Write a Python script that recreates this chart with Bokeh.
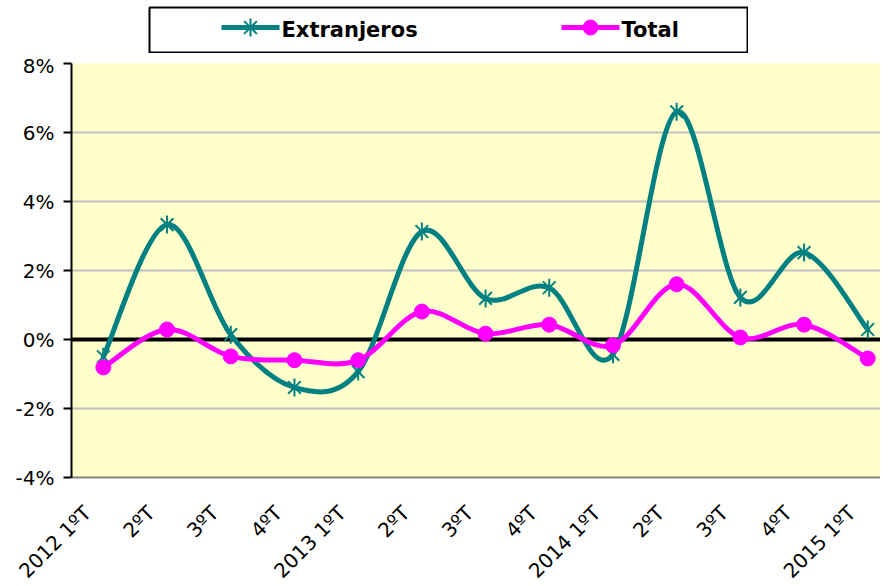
import math
from bokeh.plotting import figure
from bokeh.models import FixedTicker, PrintfTickFormatter, Span, Range1d, Spacer, ColumnDataSource
from bokeh.layouts import column, row
from bokeh.core.properties import value
from bokeh.embed import file_html
from bokeh.resources import INLINE

# ---- data ----
categories = ["2012 1ºT", "2ºT", "3ºT", "4ºT",
              "2013 1ºT", "2ºT", "3ºT", "4ºT",
              "2014 1ºT", "2ºT", "3ºT", "4ºT",
              "2015 1ºT"]
extranjeros = [-0.50, 3.33, 0.14, -1.39, -0.93, 3.13, 1.19, 1.50, -0.43, 6.60, 1.22, 2.52, 0.29]
total = [-0.81, 0.29, -0.49, -0.60, -0.60, 0.81, 0.17, 0.43, -0.17, 1.60, 0.06, 0.43, -0.55]
y_ticks = [-4, -2, 0, 2, 4, 6, 8]
legend_labels = ["Extranjeros", "Total"]

TEAL = "#008080"
MAGENTA = "#FF00FF"
BG = "#FFFFCC"
FONT = "DejaVu Sans"
LABEL_SHIFT = 0.25  # category labels sit slightly left of the category centre

xs = list(range(len(categories)))


def smooth_segments(px, py):
    """Cubic Bezier control points (Catmull-Rom style, as in smoothed lines)."""
    n = len(px)
    d = dict(x0=[], y0=[], x1=[], y1=[], cx0=[], cy0=[], cx1=[], cy1=[])
    for i in range(n - 1):
        xp, yp = (px[i - 1], py[i - 1]) if i > 0 else (px[i], py[i])
        xn, yn = (px[i + 2], py[i + 2]) if i + 2 < n else (px[i + 1], py[i + 1])
        d["x0"].append(px[i]); d["y0"].append(py[i])
        d["x1"].append(px[i + 1]); d["y1"].append(py[i + 1])
        d["cx0"].append(px[i] + (px[i + 1] - xp) / 6.0)
        d["cy0"].append(py[i] + (py[i + 1] - yp) / 6.0)
        d["cx1"].append(px[i + 1] - (xn - px[i]) / 6.0)
        d["cy1"].append(py[i + 1] - (yn - py[i]) / 6.0)
    return ColumnDataSource(d)


# ---- main chart ----
p = figure(frame_width=809, frame_height=414,
           min_border_left=71, min_border_right=0, min_border_top=10, min_border_bottom=100,
           x_range=Range1d(-0.5, 12.2), y_range=Range1d(-4, 8),
           output_backend="svg", toolbar_location=None,
           background_fill_color=BG, border_fill_color="white",
           outline_line_color=None)

p.yaxis.ticker = FixedTicker(ticks=y_ticks)
p.yaxis.formatter = PrintfTickFormatter(format="%d%%")
p.yaxis.axis_line_color = "black"
p.yaxis.axis_line_width = 2
p.yaxis.major_tick_line_color = "black"
p.yaxis.major_tick_line_width = 2
p.yaxis.major_tick_out = 8
p.yaxis.major_tick_in = 0
p.yaxis.minor_tick_line_color = None
p.yaxis.major_label_text_font = FONT
p.yaxis.major_label_text_font_size = "20px"
p.yaxis.major_label_text_color = "black"
p.yaxis.major_label_standoff = 9

label_ticks = [i - LABEL_SHIFT for i in xs]
p.xaxis.ticker = FixedTicker(ticks=label_ticks)
p.xaxis.major_label_overrides = {t: c for t, c in zip(label_ticks, categories)}
p.xaxis.major_label_orientation = math.pi / 4
p.xaxis.axis_line_color = "#808080"
p.xaxis.axis_line_width = 2
p.xaxis.major_tick_line_color = None
p.xaxis.minor_tick_line_color = None
p.xaxis.major_label_text_font = FONT
p.xaxis.major_label_text_font_size = "20px"
p.xaxis.major_label_text_color = "black"
p.xaxis.major_label_standoff = 26

p.xgrid.visible = False
p.ygrid.ticker = FixedTicker(ticks=y_ticks)
p.ygrid.grid_line_color = "#C0C0C0"
p.ygrid.grid_line_width = 2

p.add_layout(Span(location=0, dimension="width", line_color="black",
                  line_width=4, level="underlay"))

p.bezier(x0="x0", y0="y0", x1="x1", y1="y1", cx0="cx0", cy0="cy0", cx1="cx1", cy1="cy1",
         source=smooth_segments(xs, extranjeros), line_color=TEAL, line_width=5, line_cap="round")
p.scatter(xs, extranjeros, marker="x", size=18, line_color=TEAL, line_width=2)
p.scatter(xs, extranjeros, marker="dash", angle=math.pi / 2, size=18, line_color=TEAL, line_width=2)

p.bezier(x0="x0", y0="y0", x1="x1", y1="y1", cx0="cx0", cy0="cy0", cx1="cx1", cy1="cy1",
         source=smooth_segments(xs, total), line_color=MAGENTA, line_width=5, line_cap="round")
p.scatter(xs, total, marker="circle", size=15, fill_color=MAGENTA, line_color=MAGENTA)

# ---- legend box ----
lg = figure(width=600, height=47, min_border=1,
            x_range=Range1d(0, 598), y_range=Range1d(0, 45),
            x_axis_type=None, y_axis_type=None,
            output_backend="svg", toolbar_location=None,
            background_fill_color="white", border_fill_color="white",
            outline_line_color="black", outline_line_width=2)
lg.grid.visible = False

lg.segment(x0=[72], y0=[25], x1=[130], y1=[25], line_color=TEAL, line_width=5)
lg.scatter([101], [25], marker="x", size=18, line_color=TEAL, line_width=2)
lg.scatter([101], [25], marker="dash", angle=math.pi / 2, size=18, line_color=TEAL, line_width=2)
lg.text(x=[132], y=[23], text=[legend_labels[0]], text_font=value(FONT), text_font_style="bold",
        text_font_size="21px", text_baseline="middle", text_color="black")

lg.segment(x0=[412], y0=[25], x1=[470], y1=[25], line_color=MAGENTA, line_width=5)
lg.scatter([441], [25], marker="circle", size=15, fill_color=MAGENTA, line_color=MAGENTA)
lg.text(x=[472], y=[23], text=[legend_labels[1]], text_font=value(FONT), text_font_style="bold",
        text_font_size="21px", text_baseline="middle", text_color="black")

layout = column(Spacer(width=10, height=6),
                row(Spacer(width=148, height=47), lg),
                p)

open("out.html", "w").write(file_html(layout, INLINE))
